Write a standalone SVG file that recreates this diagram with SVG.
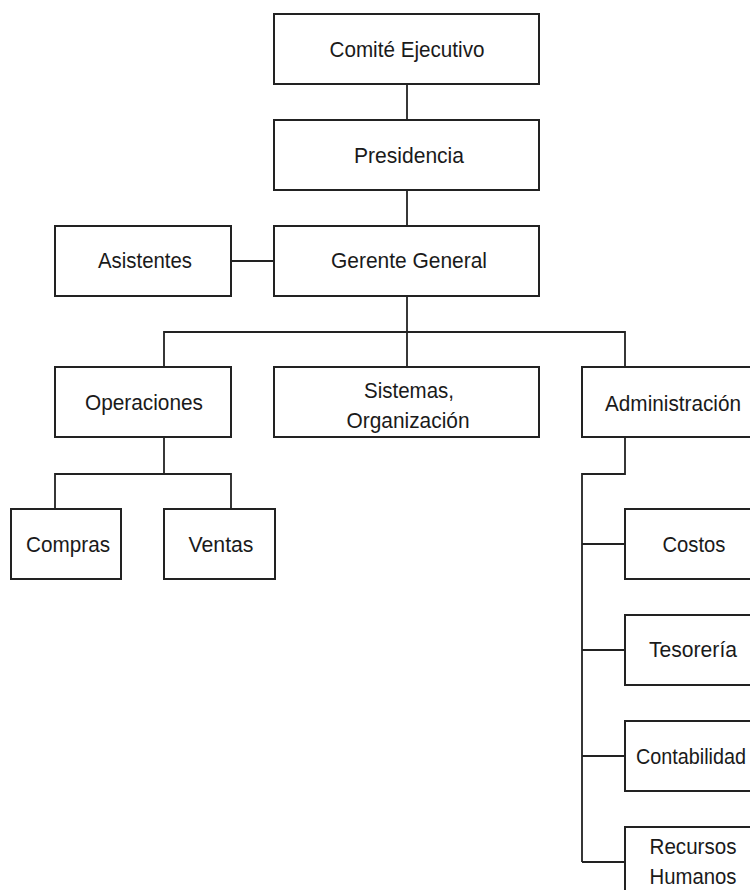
<svg xmlns="http://www.w3.org/2000/svg" width="750" height="890" viewBox="0 0 750 890">
<style>
rect.box{fill:#ffffff;stroke:#222222;stroke-width:2}
.lbl{font-family:"Liberation Sans",Arial,sans-serif;font-size:22px;fill:#1a1a1a;text-anchor:middle}
.conn{fill:none;stroke:#222222;stroke-width:1.8}
</style>
<rect x="0" y="0" width="750" height="890" fill="#ffffff"/>
<g id="connectors" class="conn">
<path d="M407,84 V120"/>
<path d="M407,190 V226"/>
<path d="M231,261 H274"/>
<path d="M407,296 V367"/>
<path d="M164,367 V332 H625 V367"/>
<path d="M164,437 V474"/>
<path d="M55,509 V474 H231 V509"/>
<path d="M625,437 V474 H582 V862"/>
<path d="M582,544 H625"/>
<path d="M582,650 H625"/>
<path d="M582,756 H625"/>
<path d="M582,862 H625"/>
</g>
<g id="comite"><rect class="box" x="274" y="14" width="265" height="70"/><text class="lbl" x="407" y="57" textLength="155" lengthAdjust="spacingAndGlyphs">Comité Ejecutivo</text></g>
<g id="presidencia"><rect class="box" x="274" y="120" width="265" height="70"/><text class="lbl" x="409" y="163" textLength="110" lengthAdjust="spacingAndGlyphs">Presidencia</text></g>
<g id="gerente"><rect class="box" x="274" y="226" width="265" height="70"/><text class="lbl" x="409" y="268" textLength="156" lengthAdjust="spacingAndGlyphs">Gerente General</text></g>
<g id="asistentes"><rect class="box" x="55" y="226" width="176" height="70"/><text class="lbl" x="145" y="268" textLength="94" lengthAdjust="spacingAndGlyphs">Asistentes</text></g>
<g id="operaciones"><rect class="box" x="55" y="367" width="176" height="70"/><text class="lbl" x="144" y="410" textLength="118" lengthAdjust="spacingAndGlyphs">Operaciones</text></g>
<g id="sistemas"><rect class="box" x="274" y="367" width="265" height="70"/><text class="lbl" x="409" y="398" textLength="90" lengthAdjust="spacingAndGlyphs">Sistemas,</text><text class="lbl" x="408" y="428" textLength="123" lengthAdjust="spacingAndGlyphs">Organización</text></g>
<g id="administracion"><rect class="box" x="582" y="367" width="182" height="70"/><text class="lbl" x="673" y="411" textLength="136" lengthAdjust="spacingAndGlyphs">Administración</text></g>
<g id="compras"><rect class="box" x="11" y="509" width="110" height="70"/><text class="lbl" x="68" y="552" textLength="84" lengthAdjust="spacingAndGlyphs">Compras</text></g>
<g id="ventas"><rect class="box" x="164" y="509" width="111" height="70"/><text class="lbl" x="221" y="552" textLength="65" lengthAdjust="spacingAndGlyphs">Ventas</text></g>
<g id="costos"><rect class="box" x="625" y="509" width="140" height="70"/><text class="lbl" x="694" y="552" textLength="63" lengthAdjust="spacingAndGlyphs">Costos</text></g>
<g id="tesoreria"><rect class="box" x="625" y="615" width="140" height="70"/><text class="lbl" x="693" y="657" textLength="88" lengthAdjust="spacingAndGlyphs">Tesorería</text></g>
<g id="contabilidad"><rect class="box" x="625" y="721" width="140" height="70"/><text class="lbl" x="691" y="764" textLength="110" lengthAdjust="spacingAndGlyphs">Contabilidad</text></g>
<g id="recursos"><rect class="box" x="625" y="827" width="140" height="70"/><text class="lbl" x="693" y="854" textLength="87" lengthAdjust="spacingAndGlyphs">Recursos</text><text class="lbl" x="693" y="884" textLength="87" lengthAdjust="spacingAndGlyphs">Humanos</text></g>
</svg>
